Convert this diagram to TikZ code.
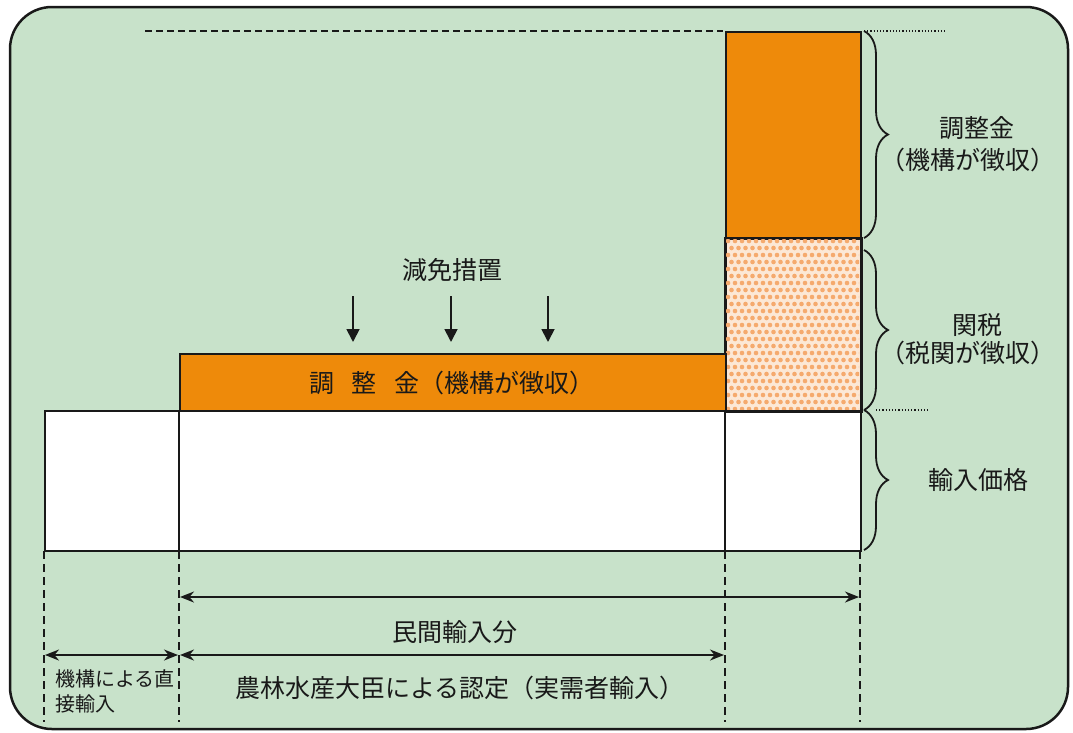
\documentclass[tikz,border=0pt]{standalone}
\usepackage{fontspec}
\setmainfont{Noto Sans CJK JP}
\usetikzlibrary{arrows.meta,decorations.pathreplacing}
\definecolor{bggreen}{RGB}{200,226,202}
\definecolor{orng}{RGB}{238,138,10}
\definecolor{peach}{RGB}{252,232,214}
\definecolor{dotor}{RGB}{245,170,110}
\definecolor{ink}{RGB}{25,25,25}
\tikzset{
  bar/.style={draw=ink,line width=2pt},
  vdash/.style={draw=ink,line width=2pt,dash pattern=on 8pt off 5pt},
  dimarrow/.style={draw=ink,line width=2pt,{Stealth[length=14pt,width=11pt]}-{Stealth[length=14pt,width=11pt]}},
  downarrow/.style={draw=ink,line width=1.8pt,-{Triangle[length=13pt,width=13pt]}},
  brc/.style={draw=ink,line width=1.8pt,decorate,decoration={brace,amplitude=24pt,raise=2pt}},
  lbl/.style={text=ink,font=\fontsize{25}{30}\selectfont,inner sep=0pt},
  slbl/.style={text=ink,font=\fontsize{20}{25}\selectfont,inner sep=0pt,align=left},
}
\begin{document}
\begin{tikzpicture}[x=1pt,y=-1pt]
\useasboundingbox (0,0) rectangle (1073,732);
% background frame
\path[fill=white] (0,0) rectangle (1073,732);
\draw[draw=ink,line width=2.5pt,fill=bggreen,rounded corners=42pt] (10,7) rectangle (1068,729);
% top dashed guide
\coordinate (tl) at (145,31);
\coordinate (tr) at (723,31);
\draw[draw=ink,line width=1.6pt,dash pattern=on 7pt off 4pt] (tl) -- (tr);
\coordinate (d1a) at (864,31);
\coordinate (d1b) at (945,31);
\draw[line width=1.2pt,dotted,draw=ink] (d1a) -- (d1b);
\coordinate (d2a) at (876,410);
\coordinate (d2b) at (930,410);
\draw[line width=1.2pt,dotted,draw=ink] (d2a) -- (d2b);
% white base
\node[bar,fill=white,minimum width=816pt,minimum height=140pt,inner sep=0pt,anchor=north west] (base) at (44,410) {};
% orange top block
\node[bar,fill=orng,minimum width=135pt,minimum height=207pt,inner sep=0pt,anchor=north west] (adj) at (725,31) {};
% tariff block with dots
\node[bar,fill=peach,minimum width=135pt,minimum height=172pt,inner sep=0pt,anchor=north west] (tariff) at (725,238) {};
\begin{scope}
\clip (726,239) rectangle (859,409);
\foreach \i in {0,...,19}{
  \foreach \j in {0,...,24}{
    \pgfmathsetmacro{\xx}{728+7*\i+3.5*mod(\j,2)}
    \pgfmathsetmacro{\yy}{241+7*\j}
    \fill[dotor] (\xx,\yy) circle (2.3pt);
  }
}
\end{scope}
\draw[bar] (tariff.north west) rectangle (tariff.south east);
% orange bar
\node[bar,fill=orng,minimum width=546pt,minimum height=57pt,inner sep=0pt,anchor=north west] (obar) at (179,353) {};
\node[lbl] (obarlbl) at (452,383) {調\hspace{0.7em}整\hspace{0.7em}金（機構が徴収）};
% dividers in base
\coordinate (v1t) at (179,410);
\coordinate (v1b) at (179,550);
\coordinate (v2t) at (725,410);
\coordinate (v2b) at (725,550);
\draw[bar] (v1t) -- (v1b);
\draw[bar] (v2t) -- (v2b);
% reduction arrows
\node[lbl] (genmen) at (452,270) {減免措置};
\foreach \x/\n in {353/a,451/b,548/c}{
  \coordinate (s\n) at (\x,296);
  \coordinate (e\n) at (\x,342);
  \draw[downarrow] (s\n) -- (e\n);
}
% braces
\coordinate (b1t) at (862,31);
\coordinate (b1b) at (862,238);
\coordinate (b2t) at (862,250);
\coordinate (b2b) at (862,410);
\coordinate (b3t) at (862,410);
\coordinate (b3b) at (862,550);
\draw[brc] (b1t) -- (b1b);
\draw[brc] (b2t) -- (b2b);
\draw[brc] (b3t) -- (b3b);
\node[lbl] (l1a) at (977,128) {調整金};
\node[lbl] (l1b) at (968,160) {（機構が徴収）};
\node[lbl] (l2a) at (977,325) {関税};
\node[lbl] (l2b) at (968,353) {（税関が徴収）};
\node[lbl] (l3) at (978,480) {輸入価格};
% vertical dashed lines
\foreach \x/\n in {44/p,179/q,725/r,860/s}{
  \coordinate (vt\n) at (\x,551);
  \coordinate (vb\n) at (\x,722);
  \draw[vdash] (vt\n) -- (vb\n);
}
% dimension arrows
\coordinate (m1) at (180,597);
\coordinate (m2) at (859,597);
\draw[dimarrow] (m1) -- (m2);
\node[lbl] (minkan) at (455,632) {民間輸入分};
\coordinate (k1) at (45,655);
\coordinate (k2) at (178,655);
\draw[dimarrow] (k1) -- (k2);
\coordinate (n1) at (180,655);
\coordinate (n2) at (724,655);
\draw[dimarrow] (n1) -- (n2);
\node[slbl,anchor=north west] (kiko) at (55,669) {機構による直\\接輸入};
\node[lbl] (nourin) at (460,688) {農林水産大臣による認定（実需者輸入）};
\end{tikzpicture}
\end{document}
